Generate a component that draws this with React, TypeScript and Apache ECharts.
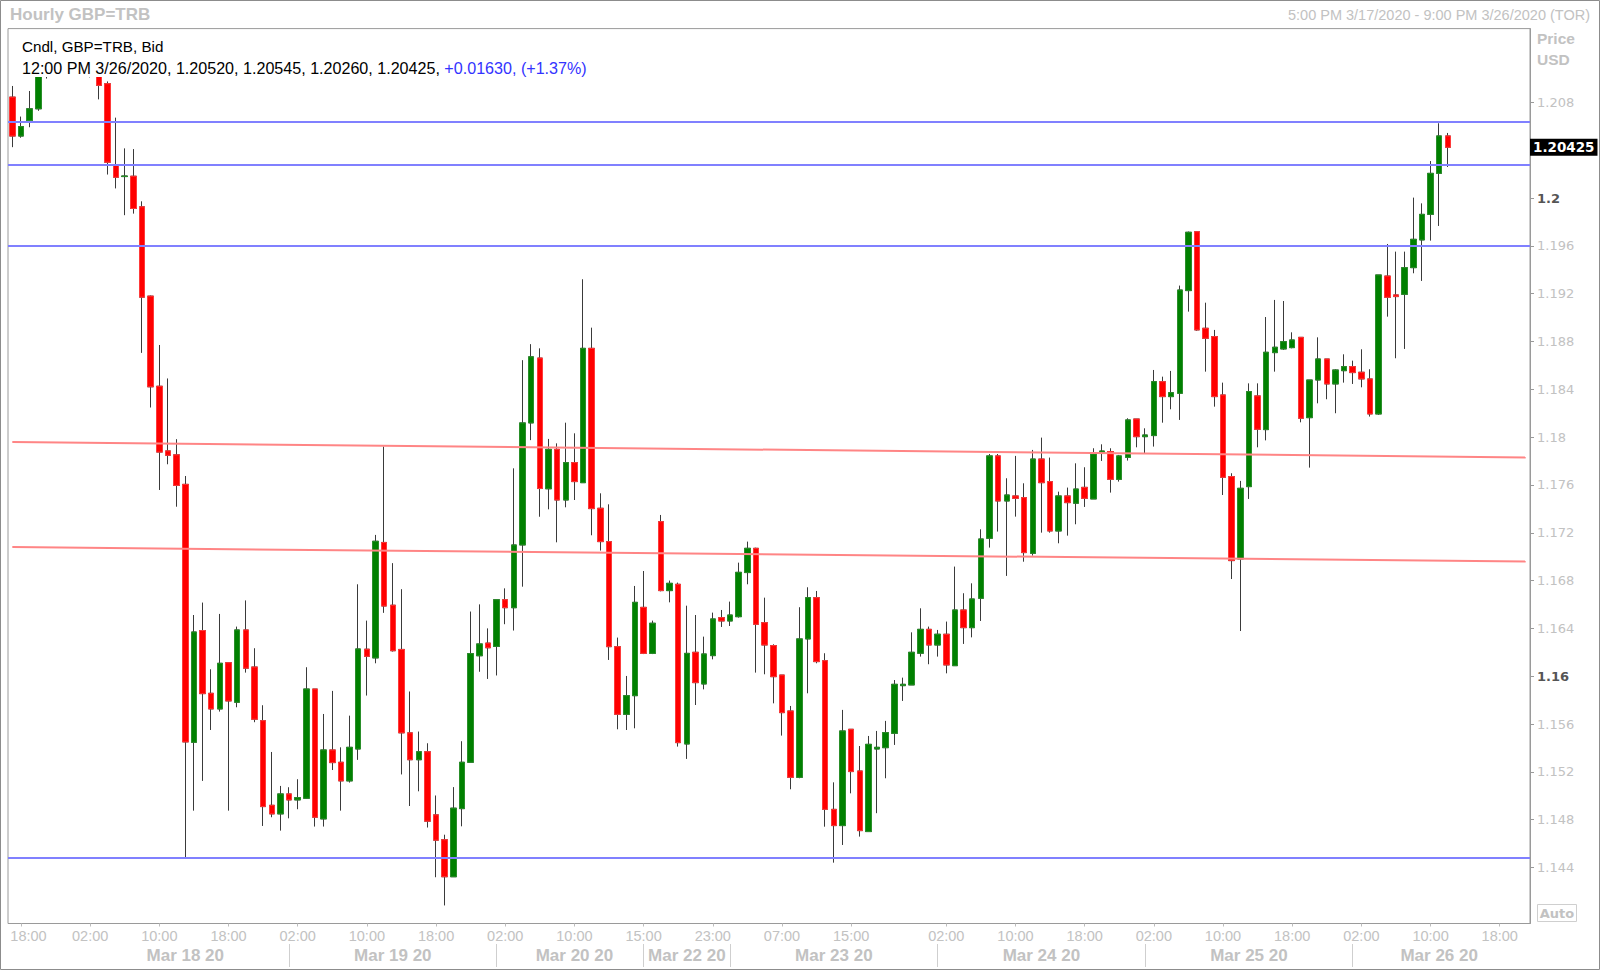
import React, { useEffect, useRef } from "react";
import * as echarts from "echarts";

// ---- timeline (hourly slots, weekend gap collapsed) ----
const sessions = [
  { day: 17, hour: 17, hours: 72 },
  { day: 22, hour: 14, hours: 104 },
];

// ---- OHLC values ----
const opens = [
  1.20845, 1.20519, 1.20649, 1.20747, 1.2108, 1.2120, 1.2114, 1.2125, 1.2117, 1.2109,
  1.2113, 1.20957, 1.20276, 1.20180, 1.20183, 1.19927, 1.19180, 1.18426, 1.17885, 1.17852,
  1.17605, 1.15447, 1.16382, 1.15857, 1.15726, 1.16113, 1.15782, 1.16387, 1.16077, 1.15628,
  1.14920, 1.14848, 1.15015, 1.14965, 1.14979, 1.15893, 1.14806, 1.15383, 1.15280, 1.15124,
  1.15391, 1.16226, 1.16153, 1.17119, 1.16594, 1.16224, 1.15526, 1.15301, 1.15368, 1.14840,
  1.14632, 1.14322, 1.14892, 1.15280, 1.16171, 1.16277, 1.16249, 1.16640, 1.16573, 1.17098,
  1.18119, 1.18662, 1.17568, 1.17898, 1.17474, 1.17787, 1.17619, 1.18743, 1.17405, 1.17126,
  1.16247, 1.15681, 1.15837, 1.16576, 1.16191, 1.17293, 1.16716, 1.16769, 1.15433, 1.16200,
  1.15935, 1.16172, 1.16490, 1.16462, 1.16498, 1.16867, 1.17070, 1.16448, 1.16256, 1.16010,
  1.15709, 1.15154, 1.16312, 1.16657, 1.16130, 1.14886, 1.14750, 1.15556, 1.15207, 1.14700,
  1.15391, 1.15402, 1.15522, 1.15921, 1.15927, 1.16192, 1.16392, 1.16261, 1.16351, 1.16088,
  1.16554, 1.16406, 1.16652, 1.17154, 1.17843, 1.17466, 1.17508, 1.17494, 1.17028, 1.17817,
  1.17628, 1.17215, 1.17508, 1.17447, 1.17580, 1.17483, 1.17873, 1.17879, 1.17647, 1.17831,
  1.18152, 1.18004, 1.18013, 1.18464, 1.18339, 1.18367, 1.19226, 1.19719, 1.18911, 1.18841,
  1.18353, 1.17670, 1.16981, 1.17586, 1.18345, 1.18063, 1.18707, 1.18738, 1.18749, 1.18835,
  1.18163, 1.18478, 1.18654, 1.18445, 1.18556, 1.18590, 1.18543, 1.18487, 1.18194, 1.19348,
  1.19190, 1.19195, 1.19418, 1.19650, 1.19864, 1.20207, 1.20520,
];
const highs = [
  1.20938, 1.20682, 1.20896, 1.21120, 1.2128, 1.2135, 1.2131, 1.2138, 1.2126, 1.2122,
  1.2118, 1.20976, 1.20673, 1.20416, 1.20410, 1.19973, 1.19185, 1.18771, 1.18491, 1.17983,
  1.17675, 1.16512, 1.16616, 1.16058, 1.16521, 1.16113, 1.16415, 1.16634, 1.16234, 1.15757,
  1.15366, 1.15082, 1.15071, 1.15138, 1.16075, 1.15893, 1.15684, 1.15877, 1.15405, 1.15670,
  1.16769, 1.16465, 1.17182, 1.17922, 1.16946, 1.16728, 1.15872, 1.15537, 1.15439, 1.15002,
  1.14674, 1.15072, 1.15456, 1.16541, 1.16601, 1.16400, 1.16640, 1.16735, 1.17739, 1.18644,
  1.18778, 1.18743, 1.17985, 1.17948, 1.18121, 1.18032, 1.19321, 1.18916, 1.17530, 1.17438,
  1.16323, 1.16002, 1.16755, 1.16880, 1.16465, 1.17349, 1.16800, 1.16783, 1.16590, 1.16512,
  1.16331, 1.16532, 1.16554, 1.16624, 1.16950, 1.17126, 1.17075, 1.16657, 1.16267, 1.16010,
  1.15751, 1.16577, 1.16744, 1.16713, 1.16192, 1.15112, 1.15718, 1.15556, 1.15416, 1.15500,
  1.15542, 1.15626, 1.15968, 1.15988, 1.16367, 1.16568, 1.16415, 1.16387, 1.16457, 1.16917,
  1.16694, 1.16777, 1.17229, 1.17859, 1.17859, 1.17656, 1.17843, 1.17614, 1.17893, 1.17996,
  1.17829, 1.17544, 1.17578, 1.17781, 1.17748, 1.17907, 1.17940, 1.17907, 1.17851, 1.18158,
  1.18152, 1.18074, 1.18562, 1.18506, 1.18554, 1.19268, 1.19720, 1.19722, 1.19125, 1.18897,
  1.18456, 1.17698, 1.17634, 1.18450, 1.18450, 1.19005, 1.19148, 1.19139, 1.18877, 1.18835,
  1.18478, 1.18835, 1.18654, 1.18568, 1.18693, 1.18640, 1.18735, 1.18568, 1.19357, 1.19616,
  1.19552, 1.19552, 1.20004, 1.19956, 1.20310, 1.20626, 1.20545,
];
const lows = [
  1.20426, 1.20505, 1.20593, 1.20730, 1.2100, 1.2110, 1.2106, 1.2112, 1.2104, 1.2101,
  1.20826, 1.20197, 1.20081, 1.19857, 1.19870, 1.18705, 1.18248, 1.17558, 1.17773, 1.17418,
  1.14480, 1.14875, 1.15124, 1.15550, 1.15704, 1.14875, 1.15740, 1.16030, 1.15615, 1.14747,
  1.14820, 1.14708, 1.14811, 1.14887, 1.14975, 1.14742, 1.14742, 1.15215, 1.14875, 1.15110,
  1.15300, 1.15838, 1.16108, 1.16530, 1.16206, 1.15178, 1.14914, 1.15037, 1.14734, 1.14318,
  1.14082, 1.14322, 1.14744, 1.15280, 1.16037, 1.15977, 1.16006, 1.16435, 1.16382, 1.16749,
  1.17975, 1.17334, 1.17396, 1.17120, 1.17413, 1.17474, 1.17619, 1.17179, 1.17051, 1.16136,
  1.15556, 1.15550, 1.15564, 1.16185, 1.16185, 1.16710, 1.16618, 1.15411, 1.15308, 1.15759,
  1.15890, 1.16141, 1.16412, 1.16420, 1.16490, 1.16769, 1.16030, 1.16016, 1.15773, 1.15503,
  1.15054, 1.15146, 1.15857, 1.16108, 1.14741, 1.14440, 1.14588, 1.15020, 1.14658, 1.14700,
  1.14854, 1.15146, 1.15425, 1.15793, 1.15927, 1.16164, 1.16100, 1.16164, 1.16024, 1.16088,
  1.16270, 1.16325, 1.16462, 1.17076, 1.17210, 1.16839, 1.17335, 1.16958, 1.17009, 1.17201,
  1.17201, 1.17112, 1.17176, 1.17271, 1.17416, 1.17483, 1.17801, 1.17536, 1.17628, 1.17804,
  1.17915, 1.17865, 1.17921, 1.18121, 1.18233, 1.18144, 1.19050, 1.18890, 1.18548, 1.18255,
  1.17516, 1.16813, 1.16378, 1.17483, 1.17915, 1.17973, 1.18548, 1.18730, 1.18743, 1.18124,
  1.17745, 1.18283, 1.18317, 1.18200, 1.18456, 1.18445, 1.18417, 1.18172, 1.18186, 1.19008,
  1.18660, 1.18738, 1.19371, 1.19307, 1.19644, 1.19767, 1.20260,
];
const closes = [
  1.20519, 1.20598, 1.20747, 1.21080, 1.2120, 1.2114, 1.2125, 1.2117, 1.2109, 1.2113,
  1.20943, 1.20300, 1.20174, 1.20185, 1.19913, 1.19171, 1.18421, 1.17875, 1.17848, 1.17596,
  1.15450, 1.16370, 1.15854, 1.15726, 1.16108, 1.15793, 1.16387, 1.16067, 1.15640, 1.14909,
  1.14848, 1.15015, 1.14965, 1.14984, 1.15893, 1.14820, 1.15383, 1.15277, 1.15124, 1.15405,
  1.16228, 1.16166, 1.17129, 1.16587, 1.16213, 1.15526, 1.15301, 1.15368, 1.14787, 1.14628,
  1.14322, 1.14896, 1.15280, 1.16189, 1.16270, 1.16238, 1.16640, 1.16573, 1.17098, 1.18119,
  1.18672, 1.17570, 1.17898, 1.17474, 1.17787, 1.17628, 1.18743, 1.17402, 1.17126, 1.16247,
  1.15681, 1.15837, 1.16618, 1.16191, 1.16443, 1.16716, 1.16777, 1.15444, 1.16191, 1.15946,
  1.16186, 1.16479, 1.16462, 1.16512, 1.16869, 1.17070, 1.16434, 1.16261, 1.15996, 1.15695,
  1.15154, 1.16312, 1.16657, 1.16122, 1.14886, 1.14750, 1.15542, 1.15202, 1.14708, 1.15430,
  1.15405, 1.15528, 1.15932, 1.15932, 1.16200, 1.16392, 1.16261, 1.16351, 1.16094, 1.16554,
  1.16406, 1.16646, 1.17148, 1.17843, 1.17466, 1.17516, 1.17488, 1.17034, 1.17817, 1.17619,
  1.17215, 1.17508, 1.17452, 1.17566, 1.17488, 1.17859, 1.17884, 1.17647, 1.17843, 1.18144,
  1.18004, 1.18018, 1.18464, 1.18339, 1.18372, 1.19231, 1.19714, 1.18897, 1.18827, 1.18339,
  1.17664, 1.16967, 1.17572, 1.18381, 1.18066, 1.18710, 1.18752, 1.18799, 1.18813, 1.18158,
  1.18478, 1.18654, 1.18445, 1.18562, 1.18590, 1.18540, 1.18487, 1.18194, 1.19357, 1.19170,
  1.19176, 1.19418, 1.19655, 1.19864, 1.20207, 1.20520, 1.20425,
];

// ---- reference lines ----
const blueLevels = [1.2064, 1.2028, 1.1960, 1.1448];
const redTrendStart = [1.1796, 1.1708];
const redTrendEnd = [1.1783, 1.1696];
const lastPrice = 1.20425;

// ---- axes ----
const yMin = 1.13931;
const yMax = 1.21418;
const yTickValues = [1.144, 1.148, 1.152, 1.156, 1.16, 1.164, 1.168, 1.172, 1.176, 1.18, 1.184, 1.188, 1.192, 1.196, 1.2, 1.204, 1.208];
const yLabelValues = [1.144, 1.148, 1.152, 1.156, 1.16, 1.164, 1.168, 1.172, 1.176, 1.18, 1.184, 1.188, 1.192, 1.196, 1.2, 1.208];
const yBoldValues = [1.16, 1.2];
const timeTickSlots = [1, 9, 17, 25, 33, 41, 49, 57, 65, 73, 81, 89, 97, 108, 116, 124, 132, 140, 148, 156, 164, 172];
const daySeparatorSlots = [32, 56, 73, 83, 107, 131, 155];
const dateLabelSlots = [20, 44, 65, 78, 95, 119, 143, 165];
const dateLabels = ["Mar 18 20", "Mar 19 20", "Mar 20 20", "Mar 22 20", "Mar 23 20", "Mar 24 20", "Mar 25 20", "Mar 26 20"];

function buildCategories(): string[] {
  const out: string[] = [];
  for (const s of sessions) {
    let day = s.day;
    let hour = s.hour;
    for (let i = 0; i < s.hours; i++) {
      out.push(`3/${day} ${String(hour).padStart(2, "0")}:00`);
      hour++;
      if (hour === 24) {
        hour = 0;
        day++;
      }
    }
  }
  return out;
}

const UP = "#008000";
const DOWN = "#ff0000";
const WICK = "#3a3a3a";
const GREY = "#c2c2c2";
const SANS = "Liberation Sans";
const VERD = "DejaVu Sans";

export default function App() {
  const ref = useRef<HTMLDivElement>(null);

  useEffect(() => {
    if (!ref.current) return;
    const chart = echarts.init(ref.current, null, { renderer: "svg" });
    const categories = buildCategories();
    const ohlc = opens.map((o, i) => [o, closes[i], lows[i], highs[i]]);
    const bodies = opens.map((o, i) => [o, closes[i], Math.min(o, closes[i]), Math.max(o, closes[i])]);
    const blueStyle = { color: "#8080ff", width: 2, type: "solid" };
    const redStyle = { color: "#ff8585", width: 2, type: "solid" };
    const lastSlot = categories.length - 1;

    const markData: any[] = [];
    blueLevels.forEach((v) => markData.push({ yAxis: v, lineStyle: blueStyle }));
    redTrendStart.forEach((v, i) =>
      markData.push([
        { coord: [categories[0], v], lineStyle: redStyle },
        { coord: [categories[lastSlot], redTrendEnd[i]] },
      ])
    );
    markData.push({
      yAxis: lastPrice,
      lineStyle: { width: 0, color: "rgba(0,0,0,0)" },
      label: {
        show: true,
        position: "end",
        distance: 0,
        formatter: lastPrice.toFixed(5),
        backgroundColor: "#000",
        color: "#fff",
        fontWeight: "bold",
        fontFamily: VERD,
        fontSize: 13.5,
        padding: [2, 3, 1, 3],
      },
    });

    const option: any = {
      animation: false,
      backgroundColor: "#fff",
      textStyle: { fontFamily: SANS },
      grid: {
        left: 8,
        right: 70,
        top: 28.6,
        bottom: 46.5,
        show: true,
        borderColor: "#9a9a9a",
        borderWidth: 1,
        backgroundColor: "#fff",
        containLabel: false,
        outerBoundsMode: "none",
      },
      xAxis: [
        {
          type: "category",
          data: categories,
          boundaryGap: true,
          position: "bottom",
          axisLine: { show: false },
          splitLine: { show: false },
          axisTick: {
            show: true,
            alignWithLabel: true,
            length: 3,
            interval: (i: number) => timeTickSlots.includes(i),
            lineStyle: { color: "#bdbdbd" },
          },
          axisLabel: {
            interval: (i: number) => timeTickSlots.includes(i),
            formatter: (v: string, i: number) => {
              const t = v.split(" ")[1];
              return i === timeTickSlots[0] ? `{s|${t}}` : `{n|${t}}`;
            },
            margin: 5,
            rich: {
              n: { color: GREY, fontSize: 14.5, fontFamily: SANS },
              s: { color: GREY, fontSize: 14.5, fontFamily: SANS, padding: [0, 0, 0, 15] },
            },
          },
        },
        {
          type: "category",
          data: categories,
          boundaryGap: true,
          position: "bottom",
          offset: 20.5,
          axisLine: { show: false },
          splitLine: { show: false },
          axisTick: {
            show: true,
            alignWithLabel: true,
            length: 23,
            interval: (i: number) => daySeparatorSlots.includes(i),
            lineStyle: { color: "#cfcfcf" },
          },
          axisLabel: {
            interval: (i: number) => dateLabelSlots.includes(i),
            formatter: (_v: string, i: number) => dateLabels[dateLabelSlots.indexOf(i)] ?? "",
            margin: 3,
            color: GREY,
            fontSize: 17,
            fontWeight: "bold",
            fontFamily: SANS,
          },
        },
      ],
      yAxis: {
        type: "value",
        position: "right",
        min: yMin,
        max: yMax,
        splitLine: { show: false },
        axisLine: { show: true, lineStyle: { color: "#9a9a9a", width: 1 } },
        axisTick: { show: true, length: 4, customValues: yTickValues, lineStyle: { color: "#9a9a9a" } },
        axisLabel: {
          customValues: yLabelValues,
          margin: 7,
          formatter: (v: number) => {
            const s = String(Number(v.toFixed(3)));
            return yBoldValues.some((b) => Math.abs(b - v) < 1e-9) ? `{b|${s}}` : `{n|${s}}`;
          },
          rich: {
            b: { color: "#555", fontWeight: "bold", fontSize: 13, fontFamily: VERD },
            n: { color: GREY, fontSize: 13, fontFamily: VERD },
          },
        },
      },
      series: [
        {
          type: "candlestick",
          name: "wicks",
          data: ohlc,
          barWidth: 6,
          silent: true,
          itemStyle: { color: UP, color0: DOWN, borderColor: WICK, borderColor0: WICK, borderWidth: 1 },
        },
        {
          type: "candlestick",
          name: "GBP=TRB",
          data: bodies,
          barWidth: 6,
          silent: true,
          itemStyle: { color: UP, color0: DOWN, borderColor: "#2a8f2a", borderColor0: "#ff3a3a", borderWidth: 1 },
          markLine: {
            silent: true,
            precision: 5,
            symbol: ["none", "none"],
            label: { show: false },
            emphasis: { disabled: true },
            data: markData,
          },
        },
      ],
      graphic: [
        {
          type: "rect",
          z: 100,
          silent: true,
          shape: { x: 0.5, y: 0.5, width: 1599, height: 969 },
          style: { fill: "none", stroke: "#8c8c8c", lineWidth: 1 },
        },
        {
          type: "text",
          z: 100,
          x: 10,
          y: 14.5,
          style: { text: "Hourly GBP=TRB", fill: GREY, fontSize: 17, fontWeight: "bold", fontFamily: SANS, verticalAlign: "middle" },
        },
        {
          type: "text",
          z: 100,
          x: 1590,
          y: 14.5,
          style: {
            text: "5:00 PM 3/17/2020 - 9:00 PM 3/26/2020 (TOR)",
            fill: GREY,
            fontSize: 14.5,
            fontFamily: SANS,
            align: "right",
            verticalAlign: "middle",
          },
        },
        {
          type: "rect",
          z: 100,
          silent: true,
          shape: { x: 9, y: 30, width: 585, height: 47 },
          style: { fill: "#fff" },
        },
        {
          type: "text",
          z: 101,
          x: 22,
          y: 46,
          style: { text: "Cndl, GBP=TRB, Bid", fill: "#000", fontSize: 15.2, fontFamily: SANS, verticalAlign: "middle" },
        },
        {
          type: "text",
          z: 101,
          x: 22,
          y: 67.5,
          style: {
            text: "{a|12:00 PM 3/26/2020, 1.20520, 1.20545, 1.20260, 1.20425, }{b|+0.01630, (+1.37%)}",
            verticalAlign: "middle",
            rich: {
              a: { fill: "#000", color: "#000", fontSize: 16.1, fontFamily: SANS },
              b: { fill: "#3333ff", color: "#3333ff", fontSize: 16.1, fontFamily: SANS },
            },
          },
        },
        {
          type: "text",
          z: 100,
          x: 1537,
          y: 38,
          style: { text: "Price", fill: GREY, fontSize: 15.5, fontWeight: "bold", fontFamily: SANS, verticalAlign: "middle" },
        },
        {
          type: "text",
          z: 100,
          x: 1537,
          y: 59.5,
          style: { text: "USD", fill: GREY, fontSize: 15.5, fontWeight: "bold", fontFamily: SANS, verticalAlign: "middle" },
        },
        {
          type: "rect",
          z: 100,
          silent: true,
          shape: { x: 1537.5, y: 904.5, width: 39, height: 17 },
          style: { fill: "#fff", stroke: "#cfcfcf", lineWidth: 1 },
        },
        {
          type: "text",
          z: 101,
          x: 1557,
          y: 913,
          style: { text: "Auto", fill: GREY, fontSize: 13, fontWeight: "bold", fontFamily: VERD, align: "center", verticalAlign: "middle" },
        },
      ],
    };

    chart.setOption(option);
    return () => chart.dispose();
  }, []);

  return (
    <div
      ref={ref}
      style={{ position: "fixed", left: 0, top: 0, width: 1600, height: 970, background: "#fff" }}
    />
  );
}
